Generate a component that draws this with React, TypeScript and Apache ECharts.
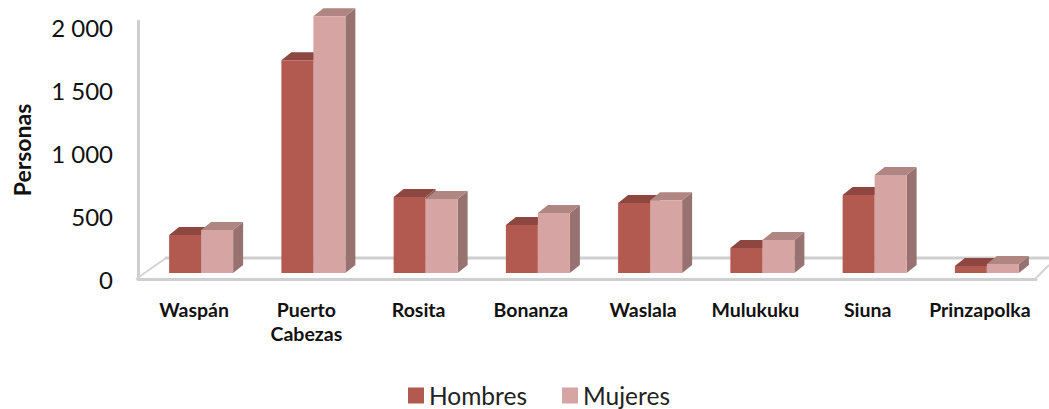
import React, { useEffect, useRef } from "react";
import * as echarts from "echarts";

const categories = ["Waspán", "Puerto\nCabezas", "Rosita", "Bonanza", "Waslala", "Mulukuku", "Siuna", "Prinzapolka"];
const hombres = [302, 1690, 603, 381, 556, 198, 619, 55];
const mujeres = [341, 2040, 587, 476, 579, 262, 778, 71];
const yTicks = { max: 2050, interval: 500 };

const FONT = "Lato, Carlito, 'Open Sans', sans-serif";

function bar3d(side: 0 | 1, front: string, top: string, right: string) {
  return (params: any, api: any) => {
    const idx = api.value(0);
    const v = api.value(1);
    const center = api.coord([idx, 0]);
    const topPt = api.coord([idx, v]);
    const w = 32;
    const dx = 10;
    const dy = 8;
    const x0 = center[0] + 7 + (side === 0 ? -w : 0);
    const x1 = x0 + w;
    const yb = center[1] - 6;
    const yt = topPt[1] - 6;
    return {
      type: "group",
      children: [
        { type: "polygon", shape: { points: [[x1, yb], [x1 + dx, yb - dy], [x1 + dx, yt - dy], [x1, yt]] }, style: { fill: right } },
        { type: "polygon", shape: { points: [[x0, yt], [x0 + dx, yt - dy], [x1 + dx, yt - dy], [x1, yt]] }, style: { fill: top } },
        { type: "rect", shape: { x: x0, y: yt, width: w, height: yb - yt }, style: { fill: front } },
      ],
    };
  };
}

export default function App() {
  const ref = useRef<HTMLDivElement>(null);
  useEffect(() => {
    document.body.style.margin = "0";
    const chart = echarts.init(ref.current!, undefined, { renderer: "svg" });
    chart.setOption({
      animation: false,
      backgroundColor: "#ffffff",
      grid: { left: 138, top: 21, width: 898, height: 258, containLabel: false },
      legend: {
        left: 403,
        top: 378,
        icon: "rect",
        itemWidth: 16,
        itemHeight: 16,
        itemGap: 35,
        textStyle: { fontFamily: FONT, fontSize: 24.5, color: "#222222", padding: [0, 0, 0, 0] },
        data: ["Hombres", "Mujeres"],
      },
      graphic: [
        { type: "line", z: 1, shape: { x1: 136, y1: 279, x2: 166, y2: 258 }, style: { stroke: "#d4d4d4", lineWidth: 2 } },
        { type: "line", z: 1, shape: { x1: 165, y1: 258, x2: 1049, y2: 258 }, style: { stroke: "#cfcfcf", lineWidth: 3 } },
        { type: "line", z: 1, shape: { x1: 1035, y1: 279, x2: 1049, y2: 265 }, style: { stroke: "#d4d4d4", lineWidth: 2 } },
      ],
      xAxis: {
        type: "category",
        data: categories,
        axisLine: { show: true, lineStyle: { color: "#cfcfcf", width: 3 } },
        axisTick: { show: false },
        axisLabel: {
          interval: 0,
          margin: 18,
          lineHeight: 24,
          fontFamily: FONT,
          fontSize: 19.5,
          fontWeight: "bold",
          color: "#111111",
        },
      },
      yAxis: {
        type: "value",
        min: 0,
        max: yTicks.max,
        interval: yTicks.interval,
        name: "Personas",
        nameLocation: "middle",
        nameGap: 105,
        nameTextStyle: { fontFamily: FONT, fontSize: 23, fontWeight: "bold", color: "#111111" },
        axisLine: { show: true, lineStyle: { color: "#cfcfcf", width: 3 } },
        axisTick: { show: false },
        splitLine: { show: false },
        axisLabel: {
          showMaxLabel: false,
          margin: 25,
          fontFamily: FONT,
          fontSize: 24,
          color: "#111111",
          formatter: (v: number) => String(v).replace(/\B(?=(\d{3})+$)/g, " "),
        },
      },
      series: [
        {
          name: "Hombres",
          type: "custom",
          z: 3,
          itemStyle: { color: "#b35a50" },
          renderItem: bar3d(0, "#b35a50", "#8e4640", "#8e5c58"),
          encode: { x: 0, y: 1 },
          data: hombres.map((v, i) => [i, v]),
        },
        {
          name: "Mujeres",
          type: "custom",
          z: 4,
          itemStyle: { color: "#d6a4a2" },
          renderItem: bar3d(1, "#d6a4a2", "#b08683", "#987270"),
          encode: { x: 0, y: 1 },
          data: mujeres.map((v, i) => [i, v]),
        },
      ],
    });
    return () => chart.dispose();
  }, []);
  return <div ref={ref} style={{ width: 1049, height: 409 }} />;
}
